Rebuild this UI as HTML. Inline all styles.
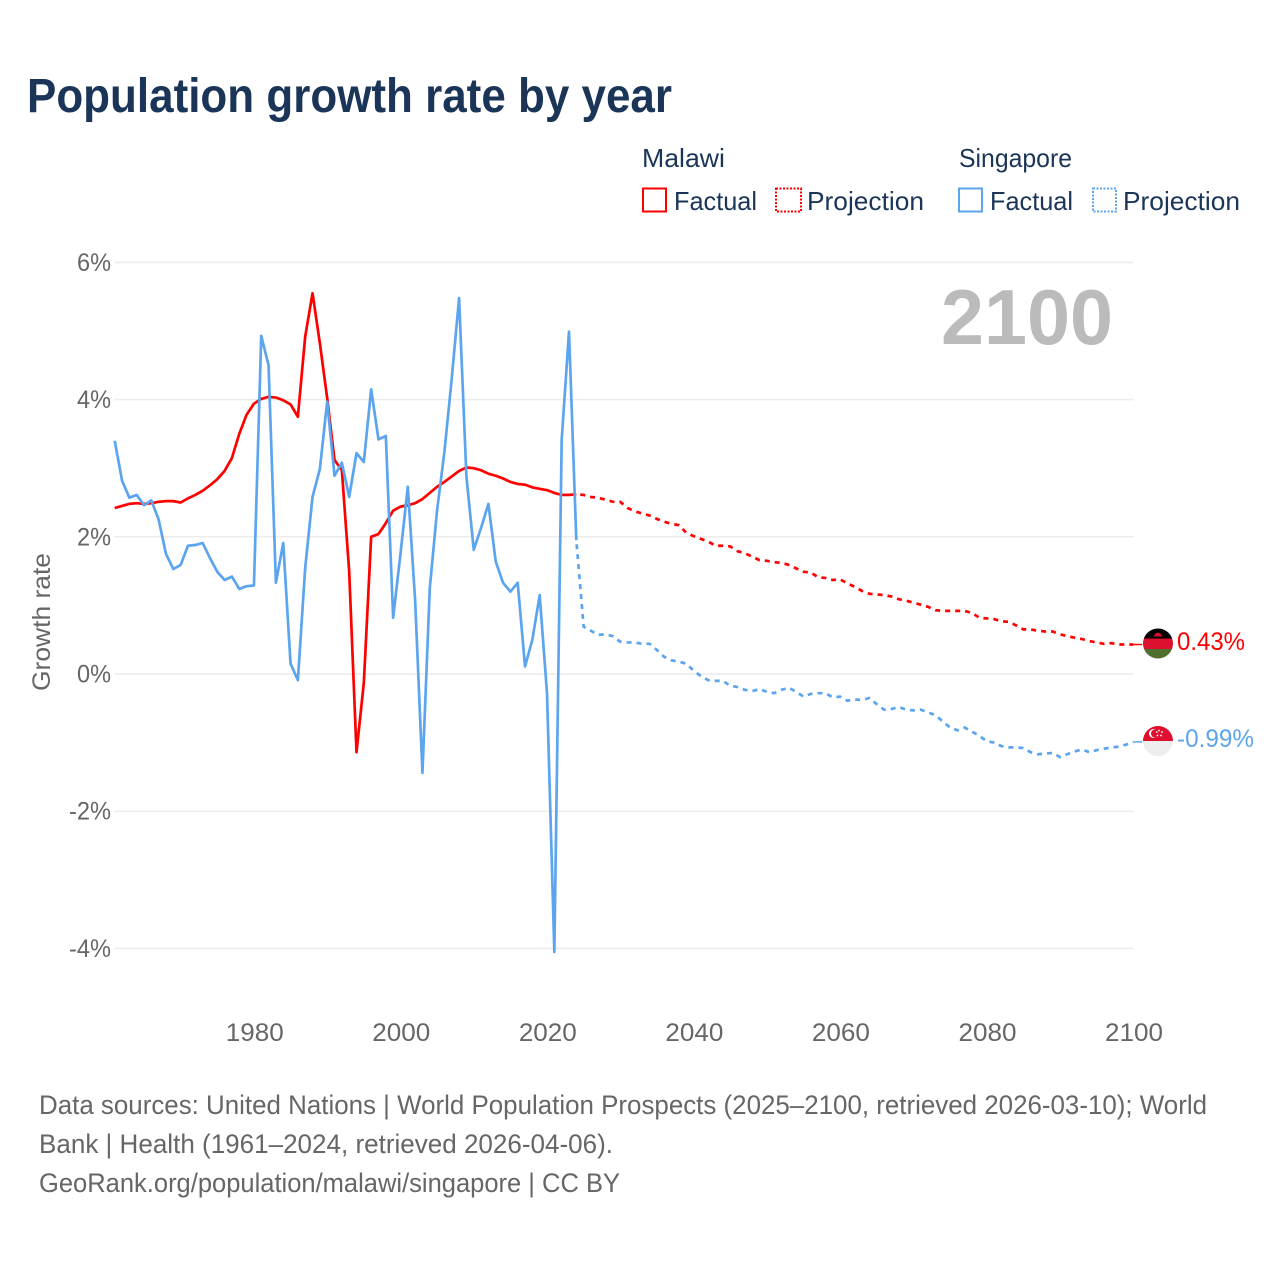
<!DOCTYPE html>
<html lang="en">
<head>
<meta charset="utf-8">
<title>Population growth rate by year</title>
<style>
html,body{margin:0;padding:0;background:#fff;}
svg{display:block;font-family:"Liberation Sans",sans-serif;}
</style>
</head>
<body>
<svg id="chart" xmlns="http://www.w3.org/2000/svg" width="1280" height="1280" viewBox="0 0 1280 1280">
  <rect x="0" y="0" width="1280" height="1280" fill="#ffffff"/>
  <text x="27" y="112" font-size="48" font-weight="700" fill="#1a3557" textLength="645" lengthAdjust="spacingAndGlyphs">Population growth rate by year</text>

  <g font-size="26" fill="#1a3557">
    <text x="642" y="167" textLength="83" lengthAdjust="spacingAndGlyphs">Malawi</text>
    <text x="959" y="167" textLength="113" lengthAdjust="spacingAndGlyphs">Singapore</text>
    <rect x="643" y="188.5" width="23" height="23" fill="none" stroke="#ff0000" stroke-width="2"/>
    <text x="674" y="210" textLength="83" lengthAdjust="spacingAndGlyphs">Factual</text>
    <rect x="776" y="188.5" width="25" height="23" fill="none" stroke="#ff0000" stroke-width="2" stroke-dasharray="2 1.5"/>
    <text x="807" y="210" textLength="117" lengthAdjust="spacingAndGlyphs">Projection</text>
    <rect x="959" y="188.5" width="23" height="23" fill="none" stroke="#5ca5ee" stroke-width="2"/>
    <text x="990" y="210" textLength="83" lengthAdjust="spacingAndGlyphs">Factual</text>
    <rect x="1093" y="188.5" width="23" height="23" fill="none" stroke="#5ca5ee" stroke-width="2" stroke-dasharray="2 1.5"/>
    <text x="1123" y="210" textLength="117" lengthAdjust="spacingAndGlyphs">Projection</text>
  </g>

  <g id="grid"></g>
  <g id="y-ticks" font-size="25" fill="#666666"></g>
  <g id="x-ticks" font-size="25" fill="#666666"></g>

  <text transform="translate(50 622) rotate(-90)" text-anchor="middle" font-size="25" fill="#666666" textLength="138" lengthAdjust="spacingAndGlyphs">Growth rate</text>
  <text x="1113" y="344" text-anchor="end" font-size="78" font-weight="700" fill="#bbbbbb" textLength="172" lengthAdjust="spacingAndGlyphs">2100</text>

  <g id="series"></g>

  <defs>
    <clipPath id="clip-malawi"><circle cx="1158" cy="643.5" r="15"/></clipPath>
    <clipPath id="clip-singapore"><circle cx="1158" cy="741" r="15"/></clipPath>
  </defs>
  <g clip-path="url(#clip-malawi)">
    <rect x="1143" y="628.5" width="30" height="10" fill="#000000"/>
    <rect x="1143" y="638.5" width="30" height="10.5" fill="#dc0f2e"/>
    <rect x="1143" y="649" width="30" height="10" fill="#4f6f2e"/>
    <path d="M1153.5 636.5 L1162.5 636.5 L1160.5 633.5 L1158 632.5 L1155.5 633.5 Z" fill="#dc0f2e"/>
  </g>
  <g clip-path="url(#clip-singapore)">
    <rect x="1143" y="726" width="30" height="15" fill="#df0f2f"/>
    <rect x="1143" y="741" width="30" height="15" fill="#eeeeee"/>
    <circle cx="1153.5" cy="733.5" r="4.5" fill="#ffffff"/>
    <circle cx="1155" cy="733.5" r="4" fill="#df0f2f"/>
    <circle cx="1159" cy="730.5" r="0.9" fill="#ffffff"/>
    <circle cx="1162" cy="732" r="0.9" fill="#ffffff"/>
    <circle cx="1161" cy="735.5" r="0.9" fill="#ffffff"/>
    <circle cx="1157.5" cy="735.5" r="0.9" fill="#ffffff"/>
    <circle cx="1156.8" cy="732" r="0.9" fill="#ffffff"/>
  </g>
  <text x="1177" y="650" font-size="25" fill="#ff0000" textLength="68" lengthAdjust="spacingAndGlyphs">0.43%</text>
  <text x="1177" y="747" font-size="25" fill="#5ca5ee" textLength="77" lengthAdjust="spacingAndGlyphs">-0.99%</text>

  <g font-size="27" fill="#666666">
    <text x="39" y="1114" textLength="1168" lengthAdjust="spacingAndGlyphs">Data sources: United Nations | World Population Prospects (2025–2100, retrieved 2026-03-10); World</text>
    <text x="39" y="1153" textLength="574" lengthAdjust="spacingAndGlyphs">Bank | Health (1961–2024, retrieved 2026-04-06).</text>
    <text x="39" y="1192" textLength="581" lengthAdjust="spacingAndGlyphs">GeoRank.org/population/malawi/singapore | CC BY</text>
  </g>
</svg>

<script>
const factualYears = [1961,1962,1963,1964,1965,1966,1967,1968,1969,1970,1971,1972,1973,1974,1975,1976,1977,1978,1979,1980,1981,1982,1983,1984,1985,1986,1987,1988,1989,1990,1991,1992,1993,1994,1995,1996,1997,1998,1999,2000,2001,2002,2003,2004,2005,2006,2007,2008,2009,2010,2011,2012,2013,2014,2015,2016,2017,2018,2019,2020,2021,2022,2023,2024];
const malawiFactual = [2.42,2.45,2.48,2.49,2.48,2.49,2.51,2.52,2.52,2.50,2.56,2.61,2.67,2.75,2.84,2.96,3.15,3.50,3.78,3.94,4.01,4.04,4.03,3.99,3.93,3.75,4.92,5.55,4.82,4.02,3.12,2.97,1.50,-1.14,-0.13,2.00,2.04,2.20,2.38,2.44,2.46,2.49,2.55,2.64,2.73,2.80,2.88,2.96,3.01,3.00,2.97,2.92,2.89,2.85,2.80,2.77,2.76,2.72,2.70,2.68,2.64,2.61,2.61,2.62];
const singaporeFactual = [3.40,2.82,2.57,2.61,2.46,2.53,2.25,1.75,1.53,1.59,1.87,1.88,1.91,1.69,1.49,1.37,1.42,1.24,1.28,1.29,4.93,4.50,1.33,1.91,0.15,-0.09,1.55,2.58,2.99,3.97,2.89,3.08,2.58,3.22,3.09,4.15,3.42,3.47,0.82,1.75,2.73,1.08,-1.44,1.25,2.39,3.24,4.31,5.48,2.88,1.81,2.13,2.48,1.64,1.33,1.20,1.33,0.11,0.50,1.15,-0.28,-4.05,3.41,4.99,1.95];
const projectionYears = [2024,2025,2026,2027,2028,2029,2030,2031,2032,2033,2034,2035,2036,2037,2038,2039,2040,2041,2042,2043,2044,2045,2046,2047,2048,2049,2050,2051,2052,2053,2054,2055,2056,2057,2058,2059,2060,2061,2062,2063,2064,2065,2066,2067,2068,2069,2070,2071,2072,2073,2074,2075,2076,2077,2078,2079,2080,2081,2082,2083,2084,2085,2086,2087,2088,2089,2090,2091,2092,2093,2094,2095,2096,2097,2098,2099,2100];
const malawiProjection = [2.62,2.61,2.58,2.57,2.54,2.51,2.51,2.42,2.37,2.34,2.31,2.26,2.22,2.19,2.17,2.06,2.01,1.97,1.93,1.87,1.87,1.86,1.79,1.76,1.71,1.66,1.65,1.63,1.62,1.59,1.54,1.49,1.48,1.41,1.40,1.37,1.38,1.32,1.27,1.21,1.17,1.16,1.15,1.13,1.09,1.07,1.04,1.01,0.98,0.93,0.92,0.92,0.92,0.92,0.89,0.82,0.81,0.80,0.77,0.76,0.71,0.65,0.65,0.63,0.62,0.62,0.58,0.55,0.53,0.51,0.48,0.46,0.44,0.45,0.43,0.43,0.43];
const singaporeProjection = [1.95,0.69,0.63,0.57,0.58,0.55,0.47,0.46,0.46,0.44,0.44,0.35,0.25,0.20,0.18,0.15,0.05,-0.03,-0.09,-0.10,-0.10,-0.17,-0.19,-0.23,-0.25,-0.22,-0.26,-0.28,-0.23,-0.20,-0.26,-0.33,-0.29,-0.28,-0.28,-0.34,-0.33,-0.39,-0.37,-0.38,-0.35,-0.44,-0.52,-0.51,-0.48,-0.52,-0.53,-0.52,-0.56,-0.60,-0.69,-0.78,-0.82,-0.78,-0.84,-0.90,-0.98,-1.00,-1.05,-1.07,-1.07,-1.08,-1.14,-1.17,-1.16,-1.15,-1.21,-1.17,-1.13,-1.10,-1.14,-1.11,-1.09,-1.07,-1.06,-1.03,-0.99];
const yTickValues = [6,4,2,0,-2,-4];
const yTickLabels = ['6%','4%','2%','0%','-2%','-4%'];
const xTickValues = [1980,2000,2020,2040,2060,2080,2100];
const xTickLabels = ['1980','2000','2020','2040','2060','2080','2100'];

const SVG_NS = 'http://www.w3.org/2000/svg';
const plot = {left: 114.7, right: 1133.2, zeroY: 674, pxPerUnit: 68.6, firstYear: 1961, lastYear: 2100, labelOffset: 0.8};
function xScale(year) {
  return plot.left + (year - plot.firstYear) * (plot.right - plot.left) / (plot.lastYear - plot.firstYear);
}
function yScale(value) {
  return plot.zeroY - value * plot.pxPerUnit;
}
function make(tag, attrs, parent) {
  const el = document.createElementNS(SVG_NS, tag);
  for (const key in attrs) el.setAttribute(key, attrs[key]);
  parent.appendChild(el);
  return el;
}
function pathFrom(years, values) {
  return years.map(function (year, i) {
    return (i ? 'L' : 'M') + xScale(year).toFixed(2) + ' ' + yScale(values[i]).toFixed(2);
  }).join(' ');
}

const gridGroup = document.getElementById('grid');
const yTickGroup = document.getElementById('y-ticks');
yTickValues.forEach(function (value, i) {
  const line = make('line', {x1: plot.left, x2: plot.right, y1: yScale(value), y2: yScale(value), stroke: '#ececec', 'stroke-width': 1.5}, gridGroup);
  
  
  const label = make('text', {x: 111, y: yScale(value) + 8.5, 'text-anchor': 'end', textLength: yTickLabels[i].length > 2 ? 42 : 34, lengthAdjust: 'spacingAndGlyphs'}, yTickGroup);
  
  
  label.textContent = yTickLabels[i];
});

const xTickGroup = document.getElementById('x-ticks');
xTickValues.forEach(function (year, i) {
  const label = make('text', {x: xScale(year) + plot.labelOffset, y: 1041, 'text-anchor': 'middle', textLength: 58, lengthAdjust: 'spacingAndGlyphs'}, xTickGroup);
  
  
  label.textContent = xTickLabels[i];
});

const seriesGroup = document.getElementById('series');
const redColor = '#ff0000';
const blueColor = '#5ca5ee';
const lineWidth = 2.7;

const malawiFactualLine = make('path', {d: pathFrom(factualYears, malawiFactual), fill: 'none', stroke: redColor, 'stroke-width': lineWidth, 'stroke-linejoin': 'round'}, seriesGroup);



const malawiProjectionLine = make('path', {d: pathFrom(projectionYears, malawiProjection), fill: 'none', stroke: redColor, 'stroke-width': lineWidth, 'stroke-dasharray': '5 5', 'stroke-dashoffset': -4}, seriesGroup);



const singaporeFactualLine = make('path', {d: pathFrom(factualYears, singaporeFactual), fill: 'none', stroke: blueColor, 'stroke-width': lineWidth, 'stroke-linejoin': 'round'}, seriesGroup);



const singaporeProjectionLine = make('path', {d: pathFrom(projectionYears, singaporeProjection), fill: 'none', stroke: blueColor, 'stroke-width': lineWidth, 'stroke-dasharray': '5 5', 'stroke-dashoffset': -4}, seriesGroup);



const lastIndex = projectionYears.length - 1;
const malawiConnector = make('line', {x1: plot.right, x2: plot.right + 9, y1: yScale(malawiProjection[lastIndex]), y2: yScale(malawiProjection[lastIndex]), stroke: redColor, 'stroke-width': 1.5}, seriesGroup);



const singaporeConnector = make('line', {x1: plot.right, x2: plot.right + 9, y1: yScale(singaporeProjection[lastIndex]), y2: yScale(singaporeProjection[lastIndex]), stroke: blueColor, 'stroke-width': 1.5}, seriesGroup);


</script>
</body>
</html>
